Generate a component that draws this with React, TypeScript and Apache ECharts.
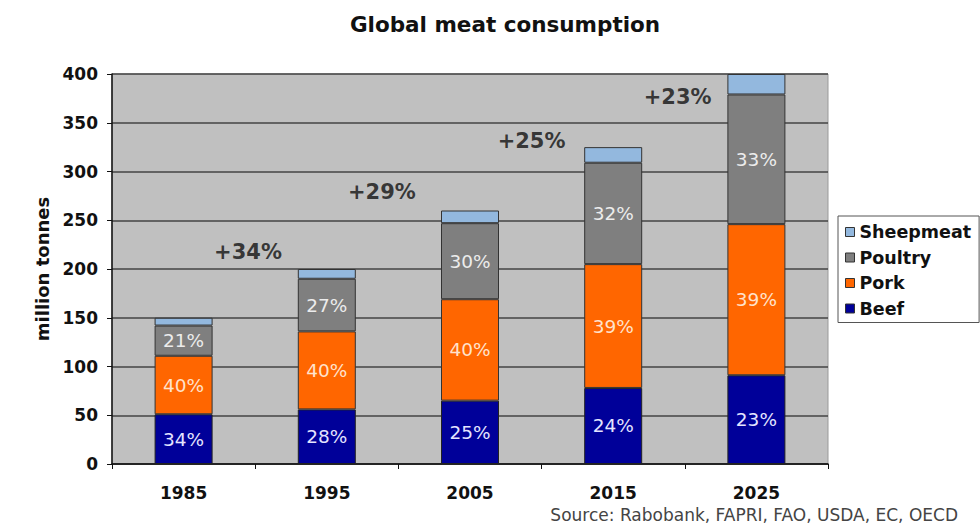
import React, { useEffect, useRef } from "react";
import * as echarts from "echarts";

// Global meat consumption by type, million tonnes
const years = ["1985", "1995", "2005", "2015", "2025"];
const beef = [51, 56, 65, 78, 91];
const pork = [60, 80, 104, 127, 155];
const poultry = [31, 54, 78, 104, 133];
const sheepmeat = [8, 10, 13, 16, 21];

// Decade-on-decade growth callouts: [x position on the overlay axis, height in million tonnes, text]
const growthLabels = ["+34%", "+29%", "+25%", "+23%"];
const growthAnchorX = [0.95, 1.885, 2.93, 3.95];
const growthAnchorY = [217, 279, 331, 376];

const yTicks = { min: 0, max: 400, interval: 50 };

const FONT = "'DejaVu Sans', Verdana, sans-serif";

export default function App() {
  const ref = useRef<HTMLDivElement>(null);

  useEffect(() => {
    if (!ref.current) return;
    const chart = echarts.init(ref.current, undefined, { renderer: "svg" });

    const totals = years.map(
      (_, i) => beef[i] + pork[i] + poultry[i] + sheepmeat[i]
    );
    const shareLabel = (color: string) => ({
      show: true,
      position: "inside",
      color,
      fontFamily: FONT,
      fontSize: 18.5,
      formatter: (p: any) =>
        Math.round((p.value / totals[p.dataIndex]) * 100) + "%",
    });

    const barBase = {
      type: "bar",
      stack: "meat",
      barWidth: 58,
      xAxisIndex: 0,
      yAxisIndex: 0,
    };

    chart.setOption({
      animation: false,
      backgroundColor: "#ffffff",
      title: {
        text: "Global meat consumption",
        left: 500,
        textAlign: "center",
        top: 8,
        textStyle: {
          fontFamily: FONT,
          fontWeight: "bold",
          fontSize: 21.5,
          color: "#111",
        },
      },
      graphic: [
        {
          type: "text",
          right: 22,
          top: 506,
          style: {
            text: "Source: Rabobank, FAPRI, FAO, USDA, EC, OECD",
            font: "17px 'DejaVu Sans', Verdana, sans-serif",
            fill: "#444",
          },
        },
      ],
      legend: {
        orient: "vertical",
        left: 838,
        top: 216,
        data: ["Sheepmeat", "Poultry", "Pork", "Beef"],
        icon: "rect",
        itemWidth: 9,
        itemHeight: 9,
        itemGap: 7.5,
        padding: [7, 8, 5, 7],
        backgroundColor: "#ffffff",
        borderColor: "#555",
        borderWidth: 1,
        borderRadius: 0,
        itemStyle: { borderColor: "#333", borderWidth: 1 },
        textStyle: {
          fontFamily: FONT,
          fontWeight: "bold",
          fontSize: 17.5,
          lineHeight: 18,
          color: "#111",
        },
        selectedMode: false,
      },
      grid: {
        left: 112,
        right: 152,
        top: 74,
        bottom: 64,
        show: true,
        backgroundColor: "#c0c0c0",
        borderColor: "#9a9a9a",
        borderWidth: 1,
      },
      xAxis: [
        {
          type: "category",
          data: years,
          axisLine: { lineStyle: { color: "#111", width: 1.5 } },
          axisTick: { show: true, length: 5, lineStyle: { color: "#111" } },
          axisLabel: {
            fontFamily: FONT,
            fontWeight: "bold",
            fontSize: 17,
            color: "#111",
            margin: 20,
          },
        },
        {
          type: "value",
          min: 0,
          max: 5,
          show: false,
        },
      ],
      yAxis: {
        type: "value",
        min: yTicks.min,
        max: yTicks.max,
        interval: yTicks.interval,
        name: "million tonnes",
        nameLocation: "middle",
        nameRotate: 90,
        nameGap: 58,
        nameTextStyle: {
          fontFamily: FONT,
          fontWeight: "bold",
          fontSize: 18,
          color: "#111",
        },
        axisLine: { show: true, lineStyle: { color: "#111", width: 1.5 } },
        axisTick: { show: true, length: 5, lineStyle: { color: "#111" } },
        axisLabel: {
          fontFamily: FONT,
          fontWeight: "bold",
          fontSize: 17,
          color: "#111",
          margin: 14,
        },
        splitLine: { lineStyle: { color: "#444", width: 1.6 } },
      },
      series: [
        {
          ...barBase,
          name: "Beef",
          data: beef,
          itemStyle: { color: "#000099", borderColor: "#222", borderWidth: 1 },
          label: shareLabel("#e4e4ff"),
        },
        {
          ...barBase,
          name: "Pork",
          data: pork,
          itemStyle: { color: "#ff6600", borderColor: "#333", borderWidth: 1 },
          label: shareLabel("#ffe2cc"),
        },
        {
          ...barBase,
          name: "Poultry",
          data: poultry,
          itemStyle: { color: "#7f7f7f", borderColor: "#333", borderWidth: 1 },
          label: shareLabel("#ececec"),
        },
        {
          ...barBase,
          name: "Sheepmeat",
          data: sheepmeat,
          itemStyle: { color: "#93b8de", borderColor: "#333", borderWidth: 1 },
        },
        {
          type: "scatter",
          name: "growth",
          xAxisIndex: 1,
          yAxisIndex: 0,
          symbolSize: 0,
          silent: true,
          data: growthLabels.map((t, i) => [
            growthAnchorX[i],
            growthAnchorY[i],
            t,
          ]),
          label: {
            show: true,
            position: "inside",
            formatter: (p: any) => p.value[2],
            fontFamily: FONT,
            fontWeight: "bold",
            fontSize: 21,
            color: "#111",
          },
        },
      ],
    });

    return () => chart.dispose();
  }, []);

  return (
    <div
      ref={ref}
      style={{ position: "absolute", left: 0, top: 0, width: 980, height: 528 }}
    />
  );
}
